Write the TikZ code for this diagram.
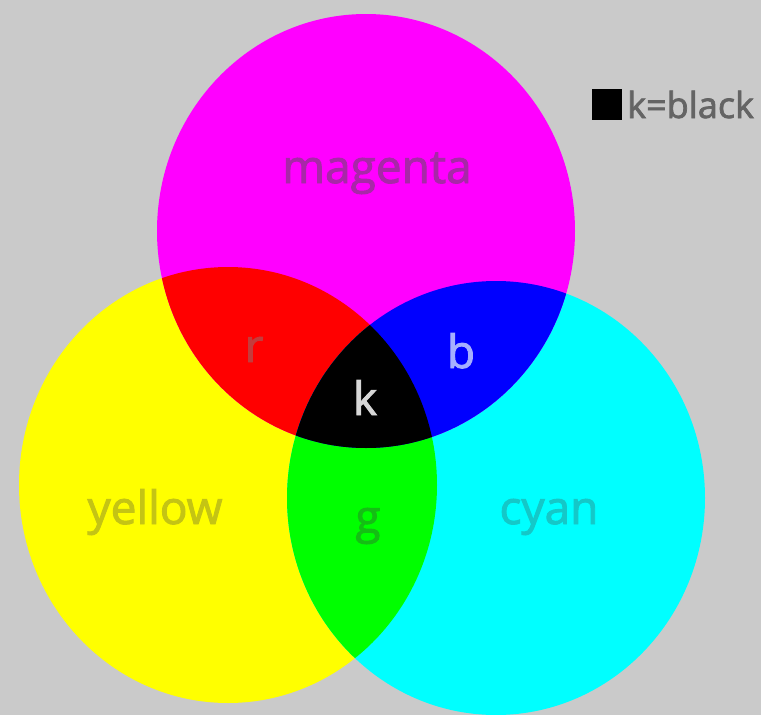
\documentclass[tikz,border=0pt]{standalone}
\usepackage{fontspec}
\setmainfont{Open Sans}
\newfontfamily\lblfont{Open Sans}[FakeBold=2]
\definecolor{bg}{RGB}{202,202,202}
\definecolor{magfill}{RGB}{255,0,255}
\definecolor{yelfill}{RGB}{255,255,0}
\definecolor{cyanfill}{RGB}{0,255,255}
\definecolor{redfill}{RGB}{255,0,0}
\definecolor{greenfill}{RGB}{0,255,0}
\definecolor{bluefill}{RGB}{0,0,255}
\definecolor{magtext}{RGB}{168,40,168}
\definecolor{yeltext}{RGB}{196,196,20}
\definecolor{cyantext}{RGB}{20,200,200}
\definecolor{gtext}{RGB}{20,190,20}
\definecolor{rtext}{RGB}{196,60,60}
\definecolor{btext}{RGB}{165,175,255}
\definecolor{ktext}{RGB}{215,215,215}
\definecolor{keytext}{RGB}{100,100,100}
\def\yellowdisc{(228,485) ellipse [x radius=209pt, y radius=218pt]}
\def\cyandisc{(496,498) ellipse [x radius=209pt, y radius=217pt]}
\def\magentadisc{(366,231) ellipse [x radius=209pt, y radius=217pt]}
\tikzset{
  lbl/.style={anchor=base, inner sep=0pt, font=\lblfont\fontsize{46}{50}\selectfont},
  keylbl/.style={anchor=base west, inner sep=0pt, font=\lblfont\fontsize{36}{40}\selectfont, text=keytext}
}
\begin{document}
\begin{tikzpicture}[x=1pt, y=-1pt]
\fill[bg] (0,0) rectangle (761,715);
\useasboundingbox (0,0) rectangle (761,715);
% the three discs
\fill[yelfill] \yellowdisc;
\fill[cyanfill] \cyandisc;
\fill[magfill] \magentadisc;
% overlaps
\begin{scope}
  \clip \yellowdisc;
  \fill[redfill] \magentadisc;
  \fill[greenfill] \cyandisc;
\end{scope}
\begin{scope}
  \clip \cyandisc;
  \fill[bluefill] \magentadisc;
\end{scope}
\begin{scope}
  \clip \yellowdisc;
  \clip \cyandisc;
  \fill[black] \magentadisc;
\end{scope}
% labels
\node[lbl, text=magtext] (magenta) at (377,183) {magenta};
\node[lbl, text=yeltext] (yellow) at (155,524) {yellow};
\node[lbl, text=cyantext] (cyan) at (549,524) {cyan};
\node[lbl, text=rtext] (r) at (254,362) {r};
\node[lbl, text=btext] (b) at (461,368) {b};
\node[lbl, text=ktext] (k) at (365,415) {k};
\node[lbl, text=gtext] (g) at (368,533) {g};
% key
\fill[black] (592,89) rectangle (622,120);
\node[keylbl] (key) at (627,118) {k=black};
\end{tikzpicture}
\end{document}
